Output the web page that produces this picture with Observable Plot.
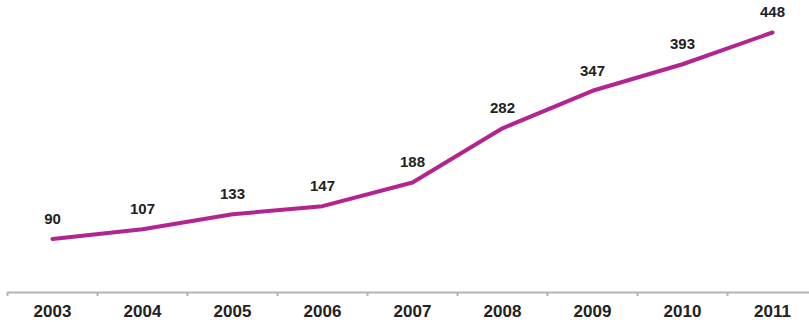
<!DOCTYPE html>
<html>
<head>
<meta charset="utf-8">
<script src="https://cdn.jsdelivr.net/npm/d3@7"></script>
<script src="https://cdn.jsdelivr.net/npm/@observablehq/plot@0.6"></script>
<style>
  html, body { margin: 0; padding: 0; background: #fff; }
  #chart svg { display: block; }
</style>
</head>
<body>
<div id="chart"></div>
<script>
const years = [2003, 2004, 2005, 2006, 2007, 2008, 2009, 2010, 2011];
const values = [90, 107, 133, 147, 188, 282, 347, 393, 448];
const tickLabels = ["2003", "2004", "2005", "2006", "2007", "2008", "2009", "2010", "2011"];

const data = years.map((y, i) => ({year: y, value: values[i], label: tickLabels[i]}));
const boundaries = years.map(y => y - 0.5);

const chart = Plot.plot({
  width: 809,
  height: 322,
  marginLeft: 7,
  marginRight: 0,
  marginTop: 2,
  marginBottom: 30,
  x: {domain: [2002.5, 2011.5], range: [7, 817], label: null},
  y: {domain: [0, 500], range: [290.5, 2], axis: null},
  marks: [
    Plot.ruleY([0], {stroke: "#b4b4b4", strokeWidth: 2, dy: 1.5}),
    Plot.axisX({ticks: boundaries, tickFormat: () => "", tickSize: 4, stroke: "#b4b4b4", strokeWidth: 2, label: null}),
    Plot.line(data, {x: "year", y: "value", stroke: "#b2248f", strokeWidth: 4, curve: "linear"}),
    Plot.text(data, {x: "year", y: "value", text: d => String(d.value), dy: -20, lineAnchor: "middle",
      fontSize: 15, fontWeight: "bold", fill: "#222", fontFamily: "Liberation Sans, Arial, sans-serif"}),
    Plot.text(data, {x: "year", y: () => 0, text: "label", dy: 21, lineAnchor: "middle",
      fontSize: 17, fontWeight: "bold", fill: "#222", fontFamily: "Liberation Sans, Arial, sans-serif"})
  ]
});
document.getElementById("chart").appendChild(chart);
</script>
</body>
</html>
